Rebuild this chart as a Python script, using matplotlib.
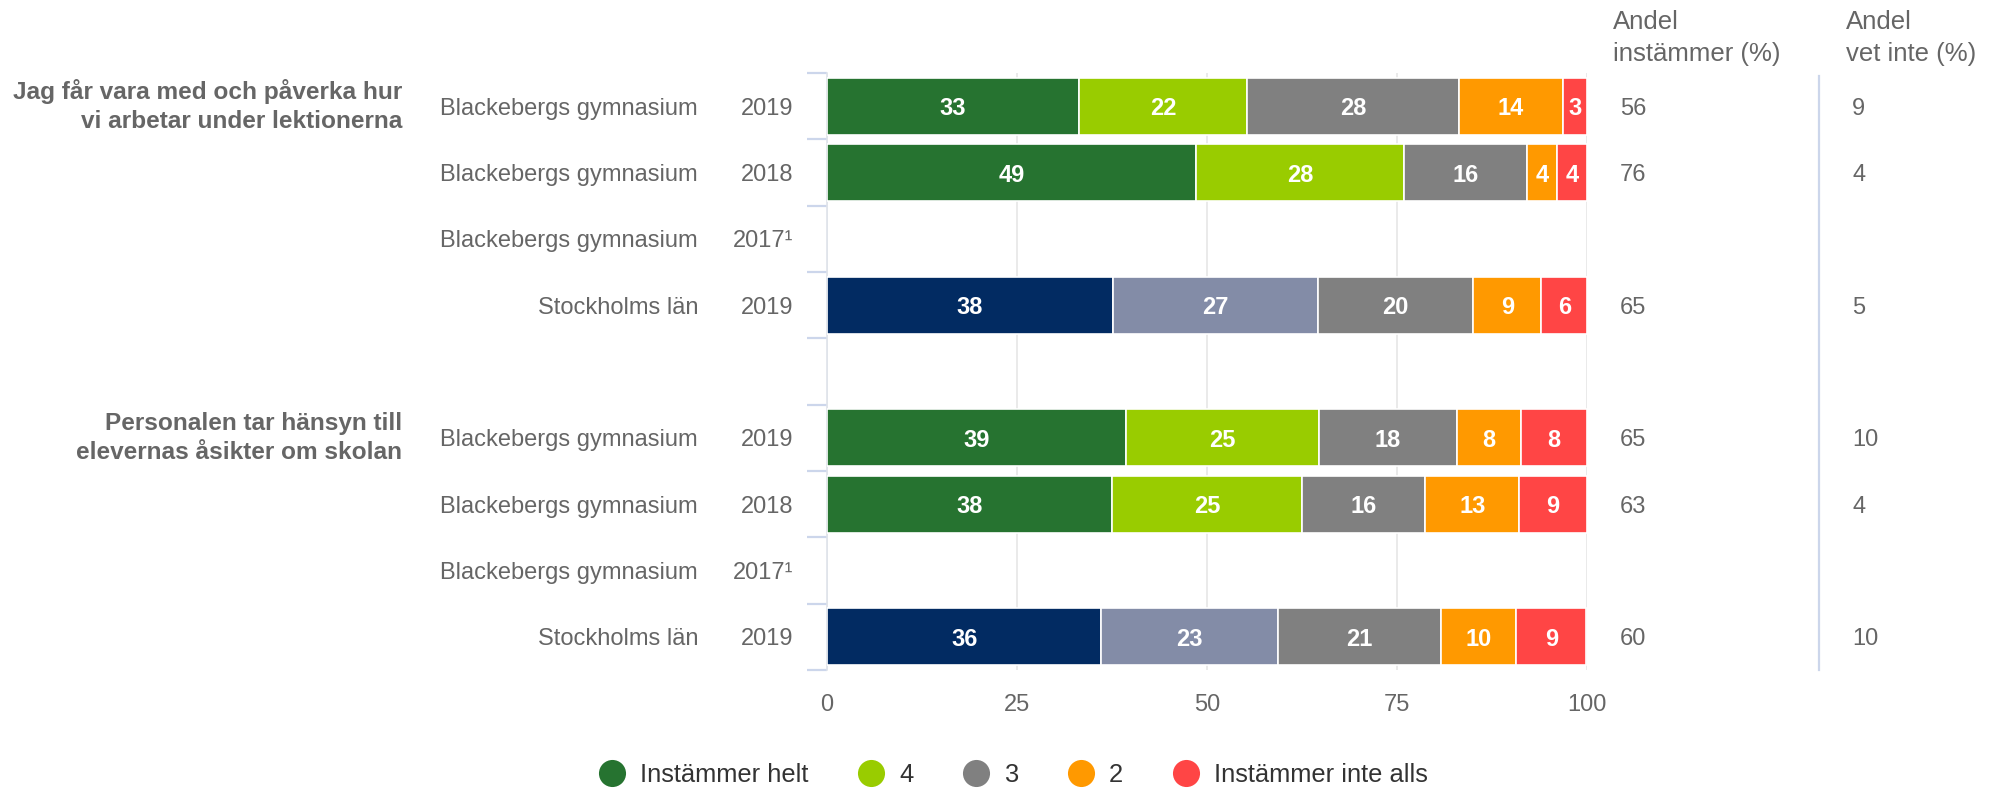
import matplotlib
matplotlib.use("Agg")
import matplotlib.pyplot as plt
import numpy as np
from matplotlib.lines import Line2D

plt.rcParams['font.family'] = ['Liberation Sans', 'DejaVu Sans']

# ---------------- data ----------------
names = ["Blackebergs gymnasium", "Blackebergs gymnasium", "Blackebergs gymnasium", "Stockholms län", "",
         "Blackebergs gymnasium", "Blackebergs gymnasium", "Blackebergs gymnasium", "Stockholms län"]
years = ["2019", "2018", "2017¹", "2019", "", "2019", "2018", "2017¹", "2019"]
groups = ["Jag får vara med och påverka hur\nvi arbetar under lektionerna",
          "Personalen tar hänsyn till\nelevernas åsikter om skolan"]
group_rows = [0, 5]
region_rows = [3, 8]

nan = np.nan
# segment widths (percent)
helt = [33.2, 48.6, nan, 37.6, nan, 39.4, 37.5, nan, 36.1]
fyra = [22.1, 27.3, nan, 27.0, nan, 25.3, 25.0, nan, 23.2]
tre = [27.9, 16.2, nan, 20.4, nan, 18.2, 16.2, nan, 21.5]
tva = [13.6, 3.9, nan, 9.0, nan, 8.4, 12.4, nan, 9.9]
inte = [3.2, 4.0, nan, 6.0, nan, 8.7, 8.9, nan, 9.2]
# printed labels
helt_lbl = [33, 49, None, 38, None, 39, 38, None, 36]
fyra_lbl = [22, 28, None, 27, None, 25, 25, None, 23]
tre_lbl = [28, 16, None, 20, None, 18, 16, None, 21]
tva_lbl = [14, 4, None, 9, None, 8, 13, None, 10]
inte_lbl = [3, 4, None, 6, None, 8, 9, None, 9]

andel_instammer = [56, 76, None, 65, None, 65, 63, None, 60]
andel_vet_inte = [9, 4, None, 5, None, 10, 4, None, 10]

legend_labels = ["Instämmer helt", "4", "3", "2", "Instämmer inte alls"]
colors = ["#267330", "#99cc00", "#808080", "#ff9900", "#ff4545"]
region_colors = ["#022b62", "#838ca7", "#808080", "#ff9900", "#ff4545"]
xticks = [0, 25, 50, 75, 100]

# ---------------- figure ----------------
W, H = 1996, 790
fig = plt.figure(figsize=(W / 100, H / 100), dpi=100)
L, R, T, B = 827, 1587, 73, 670
ax = fig.add_axes([L / W, 1 - B / H, (R - L) / W, (B - T) / H])
n = len(years)
ax.set_xlim(0, 100)
ax.set_ylim(n - 0.5, -0.5)

ppu = (R - L) / 100.0
band = (B - T) / n


def xd(px):
    return (px - L) / ppu


def yd(px):
    return (px - T) / band - 0.5


text_gray = "#666666"

series = [helt, fyra, tre, tva, inte]
series_lbl = [helt_lbl, fyra_lbl, tre_lbl, tva_lbl, inte_lbl]
left = np.zeros(n)
for j, (vals, lbls) in enumerate(zip(series, series_lbl)):
    vals = np.array(vals, dtype=float)
    rows = [i for i in range(n) if not np.isnan(vals[i])]
    cols = [region_colors[j] if i in region_rows else colors[j] for i in rows]
    ax.barh(rows, vals[rows], left=left[rows], height=0.86, color=cols,
            edgecolor="white", linewidth=1.2, zorder=3)
    for i in rows:
        ax.text(left[i] + vals[i] / 2, i, str(lbls[i]), ha="center", va="center_baseline",
                color="white", fontsize=17, fontweight="bold", zorder=4)
        left[i] += vals[i]

# axes styling
for s in ["top", "right", "bottom"]:
    ax.spines[s].set_visible(False)
ax.spines["left"].set_color("#dfe3ea")
ax.spines["left"].set_linewidth(1.2)
ax.set_axisbelow(True)
ax.set_xticks(xticks)
ax.xaxis.grid(True, color="#e6e6e6", linewidth=1.2)
ax.tick_params(axis="x", length=0, pad=17, labelsize=17, labelcolor=text_gray)

ax.set_yticks(range(n))
ax.set_yticklabels(years)
for lab in ax.get_yticklabels():
    lab.set_va("center_baseline")
ax.tick_params(axis="y", which="major", length=0, pad=24, labelsize=17, labelcolor=text_gray)
ax.set_yticks(np.arange(-0.5, n, 1), minor=True)
ax.tick_params(axis="y", which="minor", length=14.5, width=1.6, color="#ccd6eb")

# school names
for i, nm in enumerate(names):
    if nm:
        ax.text(xd(698), i, nm, ha="right", va="center_baseline", fontsize=17, color=text_gray,
                clip_on=False)

# group labels
for g, r in zip(groups, group_rows):
    ax.text(xd(402), r, g, ha="right", va="center", multialignment="right",
            fontsize=17.6, fontweight="bold", color=text_gray, linespacing=1.3, clip_on=False)

# right columns
ax.text(xd(1613), yd(38), "Andel\ninstämmer (%)", ha="left", va="center", fontsize=18.5,
        color=text_gray, linespacing=1.45, clip_on=False)
ax.text(xd(1846), yd(38), "Andel\nvet inte (%)", ha="left", va="center", fontsize=18.5,
        color=text_gray, linespacing=1.45, clip_on=False)
for i in range(n):
    if andel_instammer[i] is not None:
        ax.text(xd(1620), i, str(andel_instammer[i]), ha="left", va="center_baseline",
                fontsize=17, color=text_gray, clip_on=False)
    if andel_vet_inte[i] is not None:
        ax.text(xd(1852), i, str(andel_vet_inte[i]), ha="left", va="center_baseline",
                fontsize=17, color=text_gray, clip_on=False)
ax.axvline(xd(1819), ymin=0, ymax=0.995, color="#ccd6eb", linewidth=1.6, clip_on=False)

# legend
handles = [Line2D([0], [0], marker="o", linestyle="none", markersize=19.5,
                  markerfacecolor=c, markeredgewidth=0) for c in colors]
fig.legend(handles, legend_labels, loc="center", bbox_to_anchor=(1013.5 / W, 1 - 775 / H),
           ncol=5, frameon=False, fontsize=18.4, handlelength=1.0, handletextpad=0.6,
           columnspacing=1.95, labelcolor="#333333")

fig.savefig("out.png", dpi=100)
